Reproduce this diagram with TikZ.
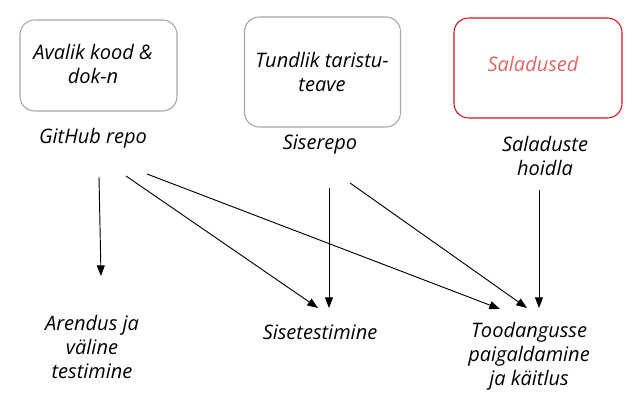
\documentclass[tikz,border=0pt]{standalone}
\usepackage{fontspec}
\setmainfont{Open Sans}
\usepackage{tikz}
\usetikzlibrary{calc, positioning}
\usetikzlibrary{arrows.meta}
\definecolor{boxgray}{HTML}{A6A6A6}
\definecolor{secred}{HTML}{D9121B}
\definecolor{sectext}{HTML}{E06666}
\tikzset{
  box/.style={draw=boxgray, line width=0.8pt, rounded corners=11pt, inner sep=0pt},
  secbox/.style={box, draw=secred},
  lbl/.style={align=center, inner sep=0pt, font=\fontsize{15}{18}\selectfont\itshape},
  arr/.style={line width=0.7pt, -{Triangle[length=8pt, width=6pt]}}
}
\begin{document}
\begin{tikzpicture}[x=0.75pt, y=-0.75pt]
	\useasboundingbox (0,0) rectangle (638,409);
	% boxes
	\node[box, minimum width=117.75pt, minimum height=68.25pt] (avalik) at (98.5,65.5) {};
	\node[lbl] (avaliktxt) at (93,64) {Avalik kood \&\\dok-n};
	\node[box, minimum width=117pt, minimum height=82.5pt] (tundlik) at (322.5,72) {};
	\node[lbl] (tundliktxt) at (322,72) {Tundlik taristu-\\teave};
	\node[secbox, minimum width=126pt, minimum height=75pt] (saladused) at (538,68) {};
	\node[lbl, text=sectext] (saladusedtxt) at (533,64) {Saladused};
	% labels
	\node[lbl] (github) at (93,138) {GitHub repo};
	\node[lbl] (siserepo) at (320,145) {Siserepo};
	\node[lbl] (hoidla) at (545,156) {Saladuste\\hoidla};
	\node[lbl] (arendus) at (92,347) {Arendus ja\\väline\\testimine};
	\node[lbl] (sisetest) at (320,332) {Sisetestimine};
	\node[lbl] (toodang) at (529,356) {Toodangusse\\paigaldamine\\ja käitlus};
	% arrows
	\draw[arr] ($(github)+(6,39)$) -- ($(arendus)+(9,-71)$);
	\draw[arr] ($(github)+(33,38)$) -- ($(sisetest)+(-2,-24)$);
	\draw[arr] ($(github)+(54,36)$) -- ($(toodang)+(-29,-47)$);
	\draw[arr] ($(siserepo)+(9,43)$) -- ($(sisetest)+(9,-24)$);
	\draw[arr] ($(siserepo)+(30,38)$) -- ($(toodang)+(-2,-48)$);
	\draw[arr] ($(hoidla)+(-6,34)$) -- ($(toodang)+(10,-48)$);
\end{tikzpicture}
\end{document}
